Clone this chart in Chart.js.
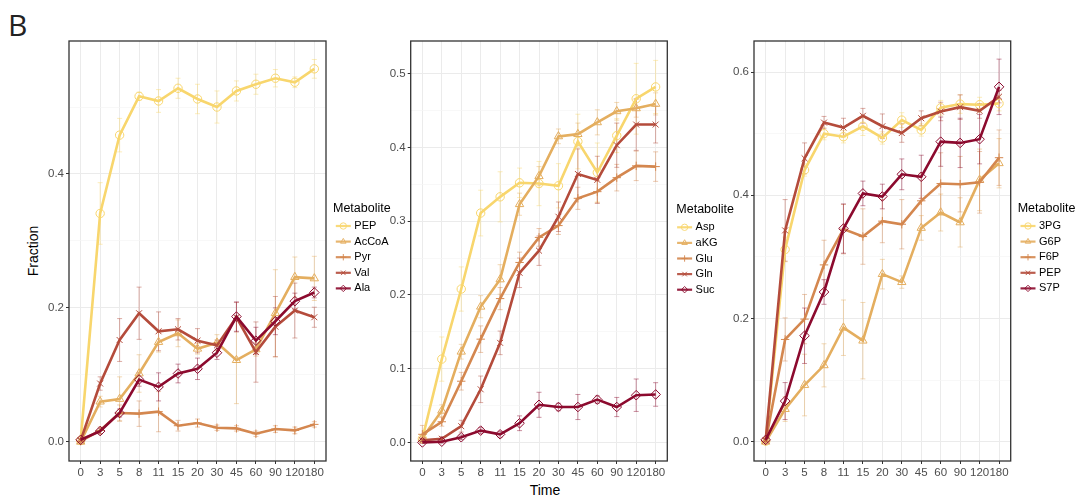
<!DOCTYPE html>
<html>
<head>
<meta charset="utf-8">
<script src="https://cdn.jsdelivr.net/npm/chart.js@4"></script>
<style>
  body { margin: 0; background: #fff; width: 1077px; height: 500px; position: relative; overflow: hidden;
         font-family: "Liberation Sans", Arial, sans-serif; }
  .panel { position: absolute; top: 0; height: 500px; }
  .lbl { position: absolute; color: #000; white-space: nowrap; }
</style>
</head>
<body>
<div class="lbl" style="left:8px; top:10px; font-size:30px; line-height:30px; font-family:'Open Sans', sans-serif; color:#222;">B</div>
<div class="lbl" style="left:32.5px; top:251px; font-size:14px; line-height:14px; transform:translate(-50%,-50%) rotate(-90deg);">Fraction</div>
<div class="lbl" style="left:545px; top:483px; font-size:14px; line-height:14px; transform:translateX(-50%);">Time</div>

<div class="panel" style="left:0; width:400px;"><canvas id="c1"></canvas></div>
<div class="panel" style="left:380px; width:360px;"><canvas id="c2"></canvas></div>
<div class="panel" style="left:715px; width:362px;"><canvas id="c3"></canvas></div>

<script>
// sampling times (min)
const times = ['0', '3', '5', '8', '11', '15', '20', '30', '45', '60', '90', '120', '180'];

// left panel
const names1 = ['PEP', 'AcCoA', 'Pyr', 'Val', 'Ala'];
const pep    = [0.002, 0.341, 0.458, 0.516, 0.509, 0.528, 0.512, 0.500, 0.524, 0.534, 0.543, 0.537, 0.557];
const acCoA  = [0.000, 0.060, 0.064, 0.102, 0.149, 0.162, 0.139, 0.148, 0.122, 0.138, 0.192, 0.246, 0.244];
const pyr    = [0.001, 0.017, 0.043, 0.042, 0.045, 0.024, 0.028, 0.021, 0.020, 0.012, 0.019, 0.017, 0.026];
const val    = [0.002, 0.087, 0.152, 0.192, 0.165, 0.168, 0.151, 0.144, 0.186, 0.134, 0.172, 0.196, 0.186];
const ala    = [0.003, 0.016, 0.043, 0.093, 0.082, 0.102, 0.109, 0.133, 0.187, 0.151, 0.180, 0.210, 0.223];
const pepErr   = [0.002, 0.046, 0.025, 0.006, 0.017, 0.015, 0.022, 0.024, 0.015, 0.015, 0.013, 0.008, 0.014];
const acCoAErr = [0.002, 0.008, 0.033, 0.028, 0.015, 0.020, 0.008, 0.012, 0.065, 0.010, 0.065, 0.030, 0.033];
const pyrErr   = [0.002, 0.005, 0.012, 0.019, 0.030, 0.008, 0.006, 0.004, 0.004, 0.004, 0.005, 0.005, 0.004];
const valErr   = [0.002, 0.010, 0.032, 0.039, 0.029, 0.016, 0.018, 0.008, 0.022, 0.045, 0.045, 0.041, 0.015];
const alaErr   = [0.002, 0.004, 0.006, 0.010, 0.021, 0.014, 0.016, 0.010, 0.022, 0.020, 0.020, 0.012, 0.008];

// middle panel
const names2 = ['Asp', 'aKG', 'Glu', 'Gln', 'Suc'];
const asp = [0.005, 0.113, 0.208, 0.311, 0.333, 0.352, 0.351, 0.348, 0.408, 0.366, 0.416, 0.466, 0.482];
const akg = [0.006, 0.043, 0.123, 0.184, 0.221, 0.323, 0.361, 0.415, 0.418, 0.434, 0.449, 0.453, 0.459];
const glu = [0.011, 0.028, 0.083, 0.140, 0.195, 0.244, 0.278, 0.294, 0.331, 0.340, 0.359, 0.375, 0.374];
const gln = [0.003, 0.005, 0.022, 0.072, 0.135, 0.230, 0.260, 0.306, 0.364, 0.356, 0.403, 0.431, 0.431];
const suc = [0.000, 0.001, 0.007, 0.016, 0.011, 0.026, 0.051, 0.048, 0.048, 0.058, 0.048, 0.064, 0.065];
const aspErr = [0.005, 0.030, 0.030, 0.031, 0.034, 0.020, 0.030, 0.030, 0.037, 0.040, 0.023, 0.048, 0.036];
const akgErr = [0.004, 0.008, 0.010, 0.015, 0.020, 0.015, 0.013, 0.010, 0.015, 0.017, 0.012, 0.012, 0.015];
const gluErr = [0.012, 0.006, 0.012, 0.018, 0.015, 0.014, 0.012, 0.012, 0.015, 0.015, 0.018, 0.020, 0.020];
const glnErr = [0.002, 0.003, 0.008, 0.018, 0.016, 0.020, 0.020, 0.020, 0.034, 0.032, 0.030, 0.035, 0.025];
const sucErr = [0.001, 0.002, 0.003, 0.004, 0.004, 0.010, 0.017, 0.005, 0.017, 0.005, 0.013, 0.022, 0.016];

// right panel
const names3 = ['3PG', 'G6P', 'F6P', 'PEP', 'S7P'];
const pg3  = [0.001, 0.312, 0.441, 0.500, 0.495, 0.512, 0.493, 0.522, 0.506, 0.542, 0.548, 0.547, 0.549];
const g6p  = [0.000, 0.053, 0.092, 0.124, 0.185, 0.164, 0.272, 0.259, 0.347, 0.372, 0.356, 0.425, 0.452];
const f6p  = [0.001, 0.166, 0.199, 0.287, 0.345, 0.333, 0.358, 0.353, 0.391, 0.419, 0.418, 0.421, 0.461];
const pepB = [0.002, 0.343, 0.460, 0.518, 0.510, 0.529, 0.512, 0.501, 0.525, 0.536, 0.543, 0.537, 0.560];
const s7p  = [0.003, 0.066, 0.172, 0.243, 0.346, 0.403, 0.398, 0.434, 0.430, 0.487, 0.485, 0.491, 0.576];
const pg3Err  = [0.002, 0.020, 0.010, 0.010, 0.010, 0.015, 0.010, 0.012, 0.010, 0.012, 0.015, 0.012, 0.012];
const g6pErr  = [0.002, 0.020, 0.050, 0.035, 0.045, 0.062, 0.024, 0.010, 0.020, 0.030, 0.040, 0.050, 0.040];
const f6pErr  = [0.002, 0.035, 0.040, 0.040, 0.040, 0.045, 0.035, 0.040, 0.045, 0.050, 0.045, 0.050, 0.045];
const pepBErr = [0.002, 0.050, 0.025, 0.010, 0.015, 0.012, 0.020, 0.015, 0.012, 0.015, 0.020, 0.012, 0.010];
const s7pErr  = [0.002, 0.030, 0.045, 0.020, 0.040, 0.020, 0.020, 0.025, 0.035, 0.040, 0.040, 0.040, 0.045];

const colors = ['#F8D66D', '#E4AE5F', '#D4874F', '#B44B3B', '#8C0A2E'];
const shapes = ['circle', 'triangle', 'cross', 'crossRot', 'rectRot'];
const radii  = [4.2, 4.8, 4.2, 4.2, 4.8];

const FONT = '"Liberation Sans", Arial, sans-serif';
Chart.defaults.font.family = FONT;

function rgba(hex, a) {
  const n = parseInt(hex.slice(1), 16);
  return `rgba(${n >> 16},${(n >> 8) & 255},${n & 255},${a})`;
}

// vertical mean +/- sd bars with small caps
const errorBars = {
  id: 'errorBars',
  beforeDatasetsDraw(chart) {
    const ctx = chart.ctx, ys = chart.scales.y;
    chart.data.datasets.forEach((ds, i) => {
      const meta = chart.getDatasetMeta(i);
      ctx.save();
      ctx.strokeStyle = rgba(ds.borderColor, 0.45);
      ctx.lineWidth = 1;
      meta.data.forEach((pt, j) => {
        const v = ds.data[j].y, e = ds.errors[j];
        const top = ys.getPixelForValue(v + e), bot = ys.getPixelForValue(v - e);
        ctx.beginPath();
        ctx.moveTo(pt.x, top); ctx.lineTo(pt.x, bot);
        ctx.moveTo(pt.x - 2.5, top); ctx.lineTo(pt.x + 2.5, top);
        ctx.moveTo(pt.x - 2.5, bot); ctx.lineTo(pt.x + 2.5, bot);
        ctx.stroke();
      });
      ctx.restore();
    });
  }
};

// dark panel border
const frame = {
  id: 'frame',
  afterDatasetsDraw(chart) {
    const a = chart.chartArea, ctx = chart.ctx;
    ctx.save();
    ctx.strokeStyle = '#333';
    ctx.lineWidth = 1.3;
    ctx.strokeRect(a.left, a.top, a.right - a.left, a.bottom - a.top);
    ctx.restore();
  }
};

// legend to the right of the panel: line + marker keys
const keyLegend = {
  id: 'keyLegend',
  afterDraw(chart, args, opts) {
    const ctx = chart.ctx, x0 = chart.chartArea.right;
    ctx.save();
    ctx.textBaseline = 'middle';
    ctx.fillStyle = '#000';
    ctx.font = '12.5px ' + FONT;
    ctx.fillText('Metabolite', x0 + opts.titleDx, opts.titleY);
    chart.data.datasets.forEach((ds, i) => {
      const y = opts.firstY + i * 15.6, kx = x0 + 17.3;
      ctx.strokeStyle = rgba(ds.borderColor, 0.9);
      ctx.lineWidth = 2.2;
      ctx.beginPath(); ctx.moveTo(kx - 7.5, y); ctx.lineTo(kx + 7.5, y); ctx.stroke();
      ctx.lineWidth = 1;
      ctx.fillStyle = 'rgba(0,0,0,0)';
      Chart.helpers.drawPoint(ctx, { pointStyle: ds.pointStyle, radius: 3.2, borderWidth: 1, rotation: 0 }, kx, y);
      ctx.fillStyle = '#000';
      ctx.font = '11px ' + FONT;
      ctx.fillText(ds.label, x0 + 28.3, y);
    });
    ctx.restore();
  }
};

function makePanel(id, names, series, errs, yMin, yMax, minorStep, majorStep, yWidth, padRight, legendOpts) {
  const yTicks = [];
  for (let v = 0; v <= yMax + 1e-9; v += minorStep) yTicks.push(+v.toFixed(3));
  const isMajor = v => Math.abs(v / majorStep - Math.round(v / majorStep)) < 1e-6;

  const datasets = series.map((vals, i) => ({
    label: names[i],
    data: vals.map((v, j) => ({ x: j, y: v })),
    errors: errs[i],
    borderColor: colors[i],
    borderWidth: 2.6,
    pointStyle: shapes[i],
    pointRadius: radii[i],
    pointBorderWidth: 1,
    pointBorderColor: colors[i],
    pointBackgroundColor: 'rgba(0,0,0,0)',
    tension: 0,
    order: names.length - i
  }));

  new Chart(document.getElementById(id), {
    type: 'line',
    data: { datasets },
    options: {
      responsive: true,
      maintainAspectRatio: false,
      animation: false,
      layout: { padding: { top: 41, right: padRight, bottom: 0, left: 0 } },
      plugins: {
        legend: { display: false },
        tooltip: { enabled: false },
        keyLegend: legendOpts
      },
      scales: {
        x: {
          type: 'linear',
          min: -0.6,
          max: times.length - 0.4,
          afterBuildTicks: s => { s.ticks = times.map((t, i) => ({ value: i })); },
          afterFit: s => { s.height = 39; },
          ticks: {
            autoSkip: false, maxRotation: 0, padding: 2,
            color: '#4D4D4D', font: { size: 11.5 },
            callback: v => times[v] ?? ''
          },
          grid: { color: '#EBEBEB', lineWidth: 1, tickColor: '#333', tickLength: 3 },
          border: { display: false }
        },
        y: {
          min: yMin,
          max: yMax,
          afterBuildTicks: s => { s.ticks = yTicks.map(v => ({ value: v })); },
          afterFit: s => { s.width = yWidth; },
          ticks: {
            padding: 2, color: '#4D4D4D', font: { size: 11.5 },
            callback: v => isMajor(v) ? v.toFixed(1) : ''
          },
          grid: {
            color: c => c.tick && isMajor(c.tick.value) ? '#EBEBEB' : '#F5F5F5',
            lineWidth: c => c.tick && isMajor(c.tick.value) ? 1 : 0.7,
            tickColor: c => c.tick && isMajor(c.tick.value) ? '#333' : 'rgba(0,0,0,0)',
            tickLength: 3
          },
          border: { display: false }
        }
      }
    },
    plugins: [errorBars, frame, keyLegend]
  });
}

makePanel('c1', names1, [pep, acCoA, pyr, val, ala], [pepErr, acCoAErr, pyrErr, valErr, alaErr],
  -0.0287, 0.5986, 0.1, 0.2, 69, 74, { titleDx: 7, titleY: 209, firstY: 226 });
makePanel('c2', names2, [asp, akg, glu, gln, suc], [aspErr, akgErr, gluErr, glnErr, sucErr],
  -0.0252, 0.5443, 0.05, 0.1, 30.7, 72.7, { titleDx: 9, titleY: 210, firstY: 227.3 });
makePanel('c3', names3, [pg3, g6p, f6p, pepB, s7p], [pg3Err, g6pErr, f6pErr, pepBErr, s7pErr],
  -0.0313, 0.6504, 0.1, 0.2, 39, 66.3, { titleDx: 7, titleY: 209, firstY: 226 });
</script>
</body>
</html>
